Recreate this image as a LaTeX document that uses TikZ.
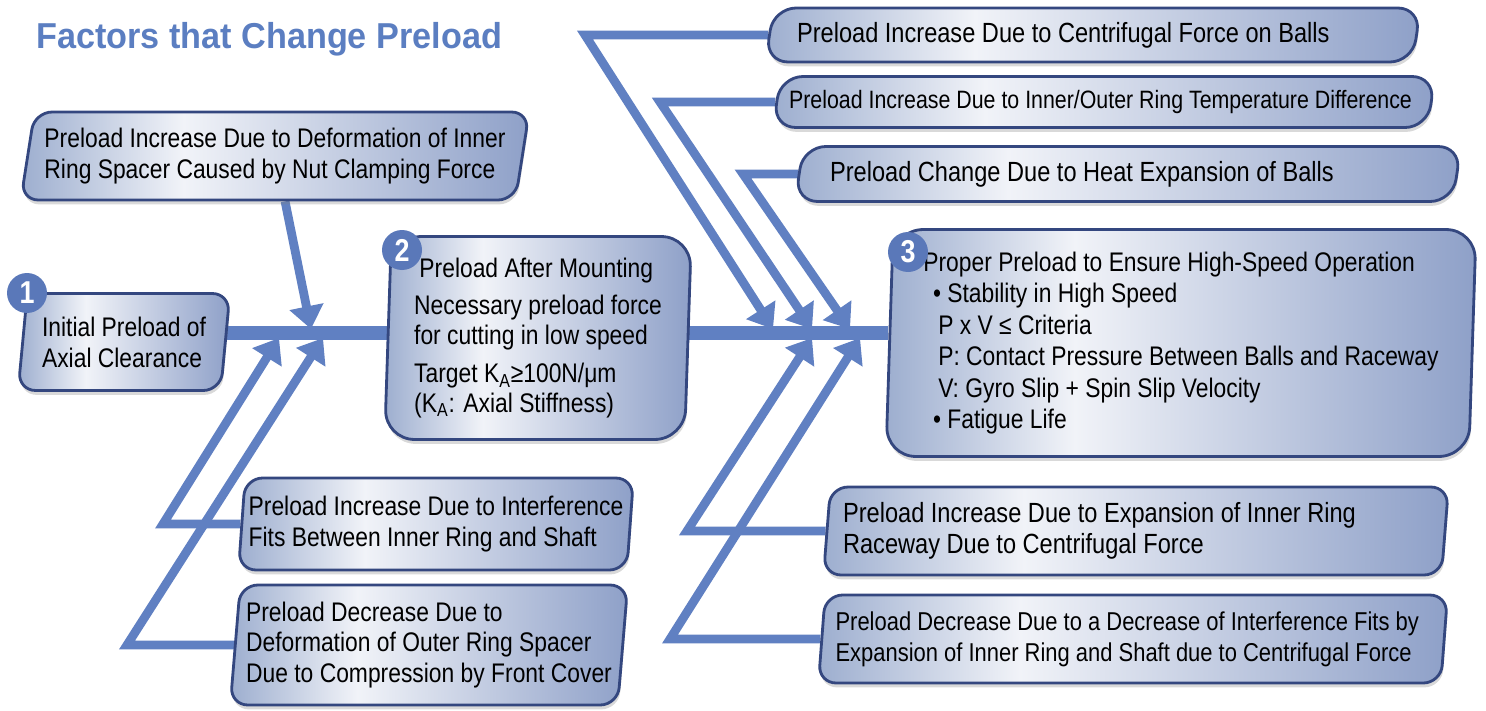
\documentclass[tikz,border=0pt]{standalone}
\usepackage{fontspec}
\setmainfont{Liberation Sans}[FakeStretch=0.85]
\newfontfamily\titlefont{Liberation Sans}[FakeStretch=0.95]
\usetikzlibrary{shapes.geometric,arrows.meta,shadows}
\definecolor{linkblue}{HTML}{6080C2}
\definecolor{titleblue}{HTML}{5B7EC1}
\definecolor{badgeblue}{HTML}{5A78B9}
\definecolor{boxline}{HTML}{34477F}
\definecolor{shadeL}{HTML}{9DAECF}
\definecolor{shadeM}{HTML}{F1F3F8}
\definecolor{shadeR}{HTML}{8EA0C8}
\pgfdeclarehorizontalshading{boxshade}{100bp}{color(0bp)=(shadeL); color(25bp)=(shadeL); color(41bp)=(shadeM); color(75bp)=(shadeR); color(100bp)=(shadeR)}
\pgfdeclarelayer{bg}
\pgfsetlayers{bg,main}
\tikzset{
  factor/.style={trapezium, trapezium stretches=true,
    trapezium left angle=82, trapezium right angle=98,
    draw=boxline, line width=1.6pt, rounded corners=0.35cm,
    shade, shading=boxshade,
    drop shadow={shadow xshift=0.6pt, shadow yshift=-2.5pt, opacity=0.3},
    align=flush left, inner sep=2pt, font=\fontsize{15.3}{17.6}\selectfont},
  spine/.style={draw=linkblue, line width=8pt},
  conn/.style={draw=linkblue, line width=5pt, -{Triangle[width=19pt,length=13pt]}},
  badge/.style={circle, fill=badgeblue, text=white, inner sep=0pt, minimum size=0.8cm,
    font=\fontsize{18}{18}\bfseries\selectfont}
}
\begin{document}
\begin{tikzpicture}[x=0.02cm,y=-0.02cm]
\useasboundingbox (0,0) rectangle (1486,710);
% title
\node[anchor=base west,text=titleblue,font=\titlefont\bfseries\fontsize{20.5}{24}\selectfont] (title) at (30,48) {Factors that Change Preload};
% left side
\node[factor, trapezium left angle=78, trapezium right angle=102, minimum width=10.2cm, minimum height=1.76cm] (tl) at (275,156)
  {Preload Increase Due to Deformation of Inner\\Ring Spacer Caused by Nut Clamping Force};
\node[factor, minimum width=4.24cm, minimum height=1.94cm] (b1) at (124,342) {Initial Preload of\\Axial Clearance};
\node[factor, trapezium left angle=84, trapezium right angle=96, minimum width=7.8cm, minimum height=1.84cm] (l1) at (436,524)
  {Preload Increase Due to Interference\\Fits Between Inner Ring and Shaft};
\node[factor, trapezium left angle=84, trapezium right angle=96, minimum width=7.96cm, minimum height=2.4cm] (l2) at (429,645)
  {Preload Decrease Due to\\Deformation of Outer Ring Spacer\\Due to Compression by Front Cover};
% middle
\node[factor, trapezium left angle=88, trapezium right angle=92, minimum width=6.14cm, minimum height=4.06cm, rounded corners=0.6cm] (b2) at (538,338)
  {\hspace*{3pt}Preload After Mounting\\[3pt]Necessary preload force\\for cutting in low speed\\[4pt]Target K\textsubscript{A}≥100N/μm\\[-1pt](K\textsubscript{A}: Axial Stiffness)};
% right side
\node[factor, trapezium left angle=77, trapezium right angle=103, minimum width=13.14cm, minimum height=1.08cm, text width=11.84cm, rounded corners=0.45cm, font=\fontsize{15.8}{17.6}\selectfont] (r1) at (1093,35)
  {Preload Increase Due to Centrifugal Force on Balls};
\node[factor, trapezium left angle=77, trapezium right angle=103, minimum width=13.3cm, minimum height=1.02cm, text width=12.6cm, rounded corners=0.45cm, font=\fontsize{14.3}{16}\selectfont] (r2) at (1104,102)
  {Preload Increase Due to Inner/Outer Ring Temperature Difference};
\node[factor, trapezium left angle=77, trapezium right angle=103, minimum width=13.34cm, minimum height=1.1cm, text width=11.92cm, rounded corners=0.45cm, font=\fontsize{15.8}{17.6}\selectfont] (r3) at (1128,174)
  {Preload Change Due to Heat Expansion of Balls};
\node[factor, trapezium left angle=88, trapezium right angle=92, minimum width=11.86cm, minimum height=4.54cm, rounded corners=0.6cm, font=\fontsize{15.3}{17.9}\selectfont] (b3) at (1181,343)
  {Proper Preload to Ensure High-Speed Operation\\\hspace*{5.5pt}• Stability in High Speed\\\hspace*{8.5pt}P x V ≤ Criteria\\\hspace*{8.5pt}P: Contact Pressure Between Balls and Raceway\\\hspace*{8.5pt}V: Gyro Slip + Spin Slip Velocity\\\hspace*{5.5pt}• Fatigue Life};
\node[factor, trapezium left angle=84, trapezium right angle=96, minimum width=12.56cm, minimum height=1.76cm, text width=11.72cm, font=\fontsize{15.8}{17.8}\selectfont] (r4) at (1136,531)
  {Preload Increase Due to Expansion of Inner Ring\\Raceway Due to Centrifugal Force};
\node[factor, trapezium left angle=84, trapezium right angle=96, minimum width=12.6cm, minimum height=1.76cm, text width=11.9cm, font=\fontsize{14.7}{17.6}\selectfont] (r5) at (1133,639)
  {Preload Decrease Due to a Decrease of Interference Fits by\\Expansion of Inner Ring and Shaft due to Centrifugal Force};
% badges
\foreach \n/\x/\y in {1/27/293,2/402/250,3/908/252}
  \node[badge] (badge\n) at (\x,\y) {\n};
% connectors
\coordinate (sp) at (0,333);
\coordinate (jTL) at (311,329);
\foreach \n/\bx/\by/\jx/\jy in {A/585/35/773/329,B/660/102/812/329,C/743/174/850/329,D/687/531/812/338,E/670/639/860/338,F/163/524/279/338,G/127/645/323/338}{
  \coordinate (b\n) at (\bx,\by);
  \coordinate (j\n) at (\jx,\jy);
}
\begin{pgfonlayer}{bg}
\draw[spine] (b1.east |- sp) -- (b3.west |- sp);
\draw[conn] ([xshift=0.2cm]tl.south) -- (jTL);
\foreach \b/\n in {r1/A,r2/B,r3/C,r4/D,r5/E,l1/F,l2/G}
  \draw[conn] (\b.west) -- (b\n) -- (j\n);
\end{pgfonlayer}
\end{tikzpicture}
\end{document}
